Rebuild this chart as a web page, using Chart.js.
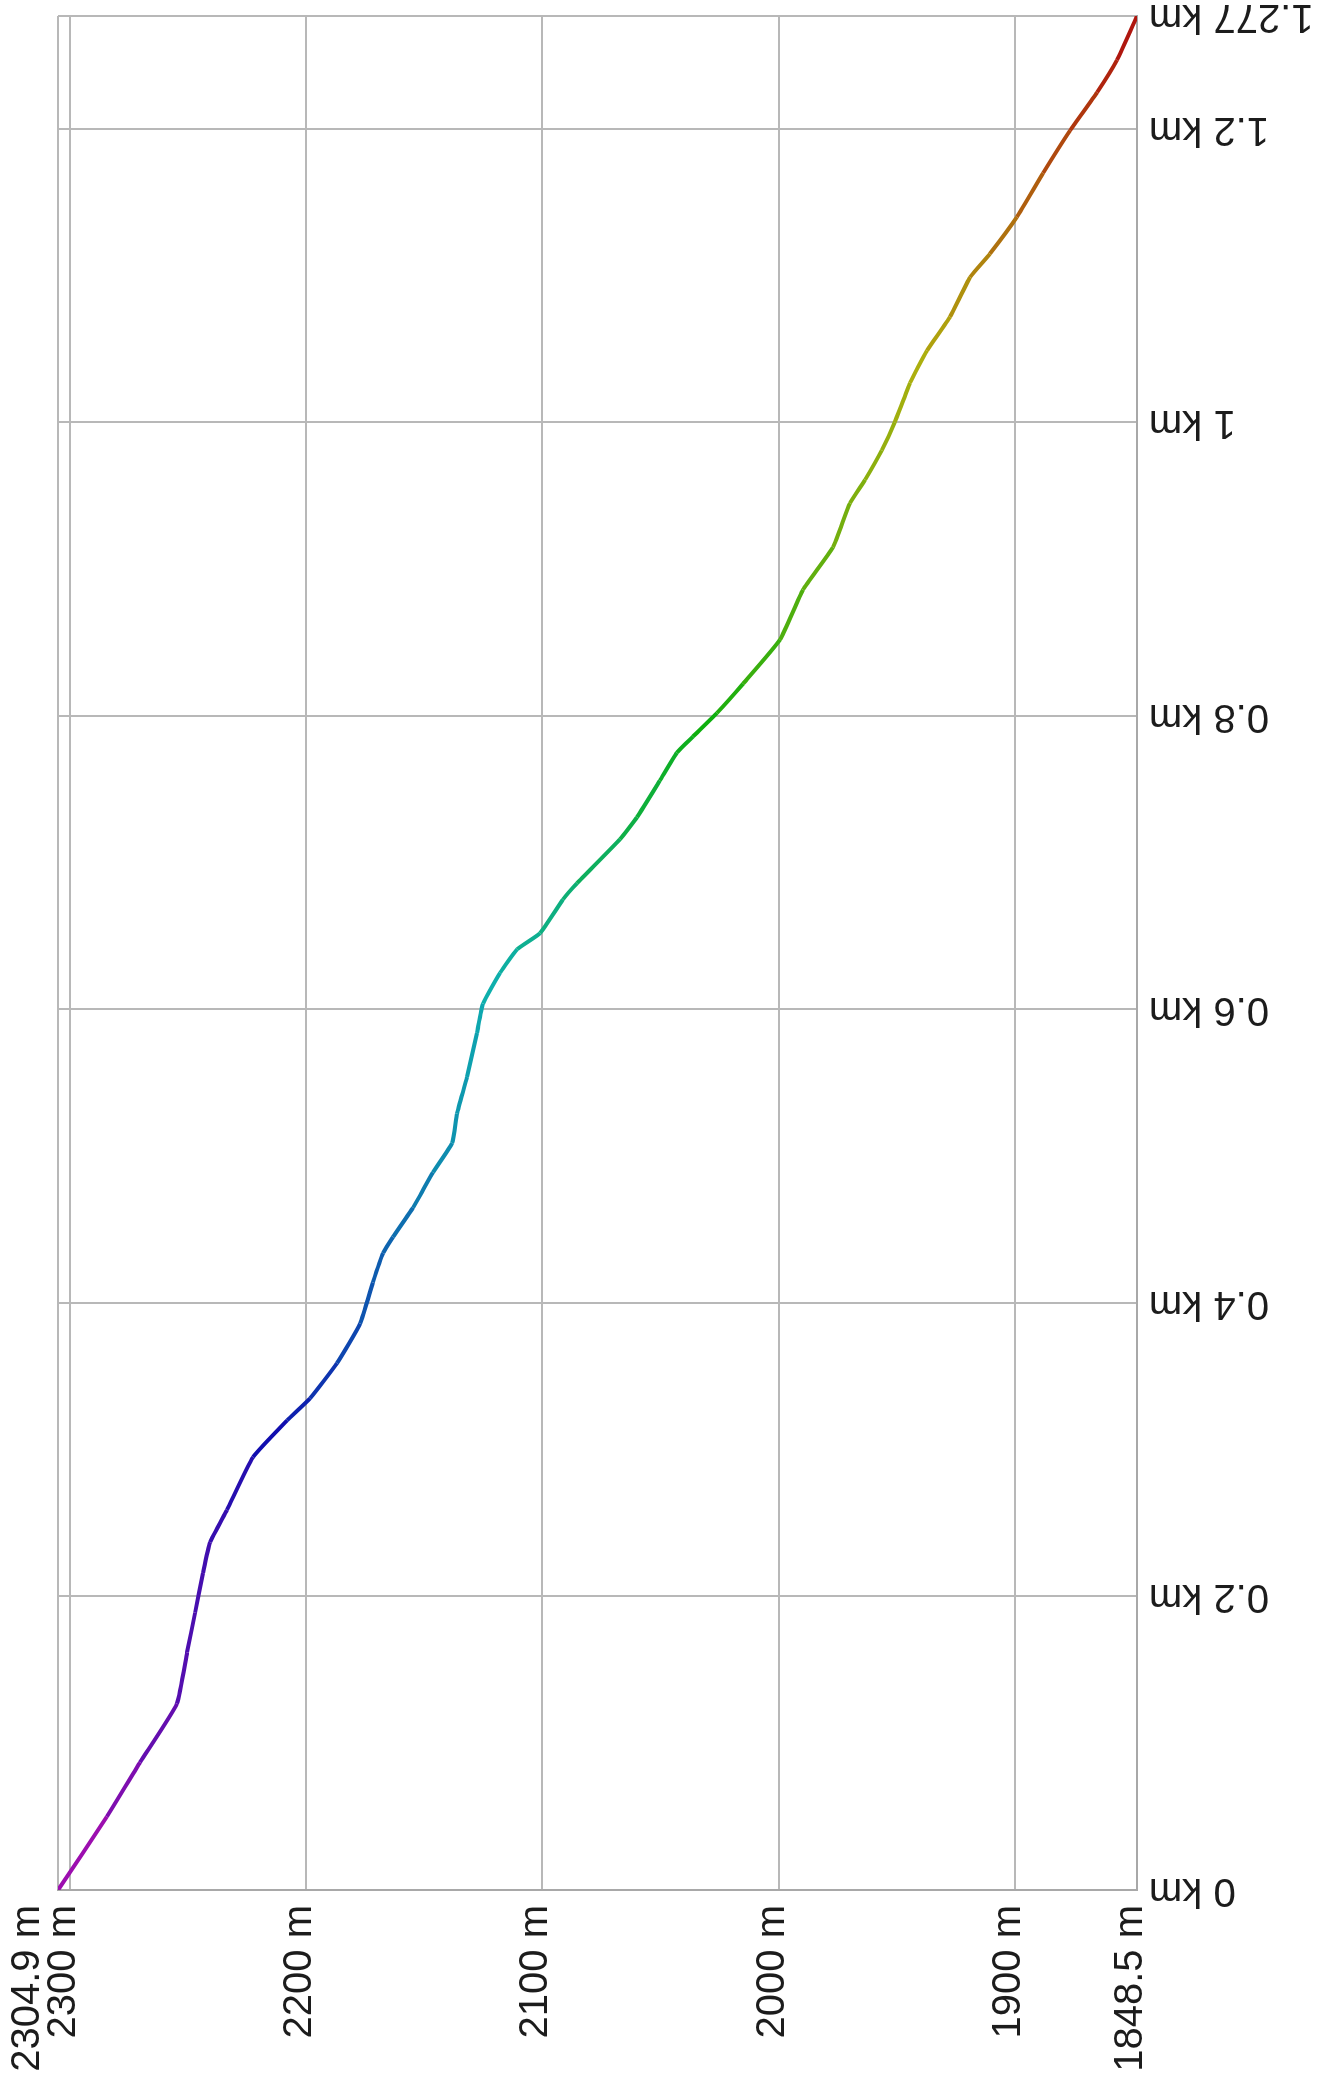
<!DOCTYPE html>
<html>
<head>
<meta charset="utf-8">
<title>Elevation profile</title>
<script src="https://cdn.jsdelivr.net/npm/chart.js@4.4.1/dist/chart.umd.min.js"></script>
<style>
  html, body { margin: 0; padding: 0; background: #fff; }
  #wrap { position: relative; width: 1319px; height: 2078px; overflow: hidden; }
  /* the profile is drawn lying on its side: distance runs bottom to top */
  #profile {
    position: absolute; left: 0; top: 0;
    transform-origin: 0 0;
    transform: translateY(2078px) rotate(-90deg);
  }
</style>
</head>
<body>
<div id="wrap">
  <canvas id="profile" width="2078" height="1319"></canvas>
</div>
<script>
// distance along the track (km) and elevation (m)
const distKm = [0, 0.050, 0.087, 0.127, 0.162, 0.189, 0.216, 0.237, 0.259, 0.295,
  0.320, 0.335, 0.359, 0.386, 0.414, 0.434, 0.445, 0.465, 0.489, 0.509,
  0.529, 0.554, 0.584, 0.604, 0.625, 0.641, 0.652, 0.675, 0.686, 0.716,
  0.731, 0.756, 0.775, 0.786, 0.802, 0.822, 0.852, 0.886, 0.915, 0.945,
  0.961, 0.981, 1.000, 1.027, 1.049, 1.072, 1.099, 1.115, 1.140, 1.170,
  1.199, 1.225, 1.247, 1.277];
const elevM = [2304.9, 2284.2, 2270.2, 2254.6, 2250.3, 2246.9, 2243.6, 2240.6, 2233.4, 2222.4,
  2208.0, 2198.3, 2186.9, 2177.1, 2171.7, 2167.4, 2163.2, 2154.7, 2146.3, 2138.2,
  2136.1, 2131.9, 2127.7, 2125.1, 2117.9, 2110.7, 2101.0, 2091.3, 2085.4, 2067.2,
  2060.0, 2050.3, 2043.1, 2036.3, 2026.2, 2015.1, 1999.5, 1989.8, 1977.1, 1969.9,
  1963.5, 1956.5, 1951.0, 1944.5, 1937.3, 1927.6, 1919.1, 1910.7, 1899.3, 1888.2,
  1876.8, 1865.4, 1857.0, 1848.5];

const distTicks = [0, 0.2, 0.4, 0.6, 0.8, 1, 1.2, 1.277];
const elevTicks = [1848.5, 1900, 2000, 2100, 2200, 2300, 2304.9];

const elevMin = 1848.5;
const elevMax = 2304.9;

// hue runs from red at the lowest point to magenta at the highest
function elevColor(e) {
  const t = (e - elevMin) / (elevMax - elevMin);
  return 'hsl(' + Math.round(300 * t) + ', 85%, 37%)';
}

const points = distKm.map((d, i) => ({ x: d, y: elevM[i] }));

const tickFont = { family: '"Liberation Sans", Arial, sans-serif', size: 40 };
const gridColor = '#b8b8b8';

new Chart(document.getElementById('profile'), {
  type: 'line',
  data: {
    datasets: [{
      data: points,
      borderWidth: 4,
      pointRadius: 0,
      tension: 0.15,
      segment: {
        borderColor: ctx => elevColor((ctx.p0.parsed.y + ctx.p1.parsed.y) / 2)
      }
    }]
  },
  options: {
    responsive: false,
    animation: false,
    layout: { padding: { top: 58, right: 16, left: 0, bottom: 0 } },
    plugins: { legend: { display: false }, tooltip: { enabled: false } },
    scales: {
      x: {
        type: 'linear',
        min: 0,
        max: 1.277,
        afterBuildTicks: scale => { scale.ticks = distTicks.map(v => ({ value: v })); },
        afterFit: scale => {
          scale.height = 182;
          scale.paddingLeft = 0;
          scale.paddingRight = 0;
        },
        grid: { color: gridColor, lineWidth: 2, drawTicks: false },
        border: { color: '#a8a8a8', width: 2 },
        ticks: {
          autoSkip: false,
          minRotation: 90,
          maxRotation: 90,
          padding: 12,
          color: '#1c1c1c',
          font: tickFont,
          callback: v => v + ' km'
        }
      },
      y: {
        type: 'linear',
        min: elevMin,
        max: elevMax,
        afterBuildTicks: scale => { scale.ticks = elevTicks.map(v => ({ value: v })); },
        afterFit: scale => {
          scale.width = 188;
          scale.paddingTop = 0;
          scale.paddingBottom = 0;
        },
        grid: { color: gridColor, lineWidth: 2, drawTicks: false },
        border: { color: '#a8a8a8', width: 2 },
        ticks: {
          autoSkip: false,
          padding: 15,
          labelOffset: -6,
          color: '#1c1c1c',
          font: tickFont,
          // the top label would sit on the 2300 m one, so it is pushed aside
          callback: v => v === elevMax ? [v + ' m', ''] : v + ' m'
        }
      }
    }
  }
});
</script>
</body>
</html>
